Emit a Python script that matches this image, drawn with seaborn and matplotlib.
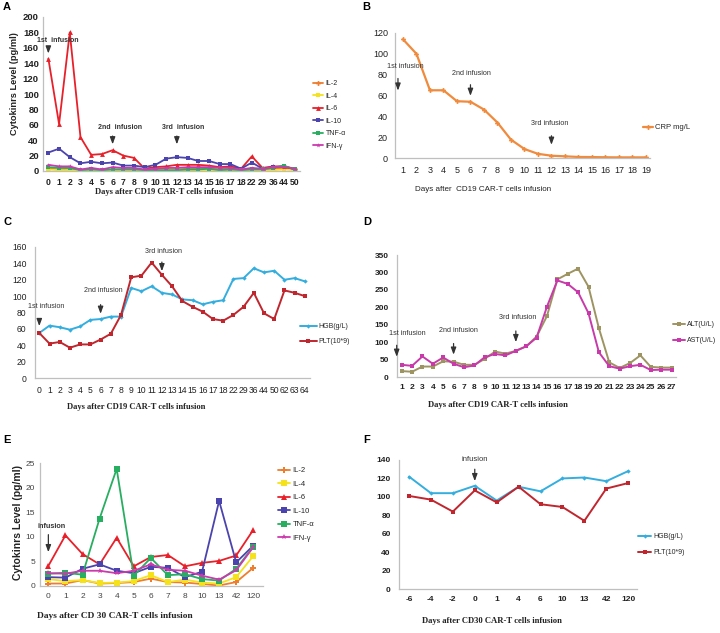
import numpy as np
import pandas as pd
import matplotlib
matplotlib.use('Agg')
import matplotlib.pyplot as plt
import seaborn as sns

# ---- panel A: cytokines after CD19 CAR-T
a_days = ['0', '1', '2', '3', '4', '5', '6', '7', '8', '9', '10', '11', '12', '13', '14', '15', '16', '17', '18',
          '22', '29', '36', '44', '50']
a_il2 = [3, 2, 3, 1, 2, 1, 2, 2, 2, 1, 2, 2, 2, 3, 3, 3, 2, 2, 1, 3, 2, 3, 4, 2]
a_il4 = [2, 1, 1, 0.5, 1, 0.5, 1, 1, 1, 0.5, 1, 1, 1, 1, 1, 1, 1, 1, 0.5, 1, 1, 1, 2, 1]
a_il6 = [146, 61, 180, 44, 21, 22, 27, 20, 17, 3, 5, 6, 8, 8, 8, 7, 5, 6, 3, 19, 4, 6, 6, 3]
a_il10 = [24, 29, 18, 10, 12, 10, 11, 7, 7, 5, 8, 16, 18, 17, 13, 13, 9, 9, 3, 11, 3, 5, 6, 2]
a_tnf = [5, 4, 4, 1, 2, 1, 2, 2, 2, 1, 1, 1, 1, 2, 2, 3, 1, 2, 1, 2, 2, 4, 7, 2]
a_ifn = [8, 6, 6, 2, 4, 2, 5, 4, 4, 2, 3, 4, 4, 5, 5, 5, 4, 4, 2, 4, 3, 5, 5, 3]

# ---- panel B: CRP
b_days = [str(d) for d in range(1, 20)]
b_crp = [114, 100, 65, 65, 54.5, 54, 46.5, 34, 17.6, 8.6, 4, 2.2, 1.6, 1, 0.9, 0.7, 0.6, 0.6, 0.6]

# ---- panel C: HGB / PLT after CD19 CAR-T
c_days = ['0', '1', '2', '3', '4', '5', '6', '7', '8', '9', '10', '11', '12', '13', '14', '15', '16', '17', '18',
          '22', '29', '36', '44', '50', '62', '63', '64']
c_hgb = [55, 64, 62, 59, 63, 71, 72, 75, 75, 110, 106, 112, 104, 102, 96, 95, 90, 93, 95, 121, 122, 134, 129, 131,
         120, 122, 118]
c_plt = [55, 42, 44, 37, 41, 41, 47, 54, 77, 123, 125, 141, 126, 112, 94, 87, 81, 72, 70, 77, 87, 104, 79, 72,
         107, 104, 100]

# ---- panel D: ALT / AST
d_days = [str(d) for d in range(1, 28)]
d_alt = [17, 15, 30, 30, 45, 44, 35, 35, 52, 73, 67, 75, 88, 116, 175, 280, 296, 311, 259, 140, 42, 26, 40, 62,
         29, 27, 27]
d_ast = [35, 32, 59, 38, 56, 38, 28, 33, 57, 66, 62, 75, 88, 113, 202, 277, 267, 243, 183, 71, 31, 24, 31, 35,
         20, 21, 21]

# ---- panel E: cytokines after CD30 CAR-T
e_days = ['0', '1', '2', '3', '4', '5', '6', '7', '8', '10', '13', '42', '120']
e_il2 = [0.5, 0.5, 1.2, 0.5, 0.6, 0.8, 1.5, 0.8, 0.7, 0.4, 0.1, 0.8, 3.7]
e_il4 = [1.4, 1.0, 1.2, 0.6, 0.7, 1.0, 2.2, 0.8, 1.3, 0.7, 0.5, 1.8, 6.1]
e_il6 = [4.1, 10.3, 6.5, 4.4, 9.8, 4.0, 5.9, 6.3, 4.0, 4.7, 5.1, 6.2, 11.4]
e_il10 = [1.8, 1.7, 3.5, 4.4, 3.1, 2.6, 3.9, 3.7, 1.8, 2.9, 17.3, 4.8, 8.2]
e_tnf = [2.5, 2.7, 2.3, 13.7, 23.8, 2.1, 5.7, 2.2, 2.4, 1.4, 1.1, 3.5, 8.0]
e_ifn = [2.6, 2.5, 3.1, 3.1, 2.6, 3.1, 4.4, 3.3, 3.1, 2.1, 1.3, 3.2, 7.9]

# ---- panel F: HGB / PLT after CD30 CAR-T
f_days = ['-6', '-4', '-2', '0', '1', '4', '6', '10', '13', '42', '120']
f_hgb = [122, 104, 104, 112, 96, 111, 106, 120, 121, 117, 128]
f_plt = [101, 97, 84, 107, 94, 111, 92, 89, 74, 109, 115]

cyto_names = ['IL-2', 'IL-4', 'IL-6', 'IL-10', 'TNF-α', 'IFN-γ']
cyto_colors = ['#EE7D2E', '#F5E21A', '#E8202A', '#4B44AE', '#27AE60', '#CC3AAE']
cyto_markers = ['P', 's', '^', 's', 's', '*']

sns.set_theme(style='white')
plt.rcParams['font.family'] = ['Liberation Sans', 'DejaVu Sans']

W, H = 720, 633
fig = plt.figure(figsize=(W / 100, H / 100), dpi=100)


def make_ax(l, t, r, b):
    ax = fig.add_axes([l / W, 1 - b / H, (r - l) / W, (b - t) / H])
    for s in ['top', 'right']:
        ax.spines[s].set_visible(False)
    for s in ['left', 'bottom']:
        ax.spines[s].set_color('#BFBFBF')
        ax.spines[s].set_linewidth(0.9)
    return ax


def draw(ax, labels, series, names, colors, markers, ms=3.5, lw=1.3):
    x = np.arange(len(labels))
    for vals, name, col, mk in zip(series, names, colors, markers):
        df = pd.DataFrame({'x': x, 'y': vals})
        sns.lineplot(data=df, x='x', y='y', ax=ax, color=col, marker=mk, markersize=ms,
                     markeredgewidth=0, linewidth=lw, label=name)
    ax.set_xticks(x)
    ax.set_xticklabels(labels)
    ax.set_xlabel('')
    ax.set_ylabel('')


def style_ticks(ax, xsize, ysize, weight, xpad, ypad, color='#222222'):
    ax.tick_params(axis='both', length=0, colors=color)
    ax.tick_params(axis='x', pad=xpad, labelsize=xsize)
    ax.tick_params(axis='y', pad=ypad, labelsize=ysize)
    for lab in ax.get_xticklabels() + ax.get_yticklabels():
        lab.set_fontweight(weight)


def legend(ax, x_px, y_px, size, spacing, hl=1.8):
    ax.legend(loc='upper left', bbox_to_anchor=(x_px / W, 1 - y_px / H), bbox_transform=fig.transFigure,
              frameon=False, fontsize=size, borderpad=0, borderaxespad=0, handlelength=hl,
              handletextpad=0.3, labelspacing=spacing)


def arrow(ax, x, y0, y1, text=None, tx=None, ty=None, size=5, weight='bold'):
    ax.annotate('', xy=(x, y1), xytext=(x, y0), annotation_clip=False,
                arrowprops=dict(arrowstyle='-|>,head_length=0.35,head_width=0.13', color='#333333', lw=0.9))
    if text:
        ax.text(tx, ty, text, ha='center', va='center', fontsize=size, fontweight=weight,
                color='#333333', clip_on=False)


def xlabel(text, cx, top, size, family='Liberation Serif', weight='bold'):
    fig.text(cx / W, 1 - top / H, text, ha='center', va='top', fontsize=size, fontweight=weight,
             family=family, color='#222222')


# A
ax = make_ax(43, 17, 300, 171)
draw(ax, a_days, [a_il2, a_il4, a_il6, a_il10, a_tnf, a_ifn], cyto_names, cyto_colors, cyto_markers, ms=3.5)
ax.set_xlim(-0.5, 23.5)
ax.set_ylim(0, 200)
ax.set_yticks(range(0, 201, 20))
style_ticks(ax, 6.2, 6.8, 'bold', 5, 3)
legend(ax, 313, 80, 5, 0.8, hl=1.5)
arrow(ax, 0, 162, 149, '1st  infusion', 0.9, 170)
arrow(ax, 6, 49, 31, '2nd  infusion', 6.7, 56)
arrow(ax, 12, 49, 31, '3rd  infusion', 12.6, 56)
fig.text(15 / W, 1 - 84 / H, 'Cytokinrs Level (pg/ml)', rotation=90, ha='center', va='center',
         fontsize=6.7, fontweight='bold', color='#222222')
xlabel('Days after CD19 CAR-T cells infusion', 164, 188, 6.1)

# B
ax = make_ax(395, 33, 650, 158)
draw(ax, b_days, [b_crp], ['CRP mg/L'], ['#F08A3C'], ['P'], ms=3.5, lw=1.6)
ax.set_xlim(-0.59, 18.3)
ax.set_ylim(0, 120)
ax.set_yticks(range(0, 121, 20))
style_ticks(ax, 6.5, 6.5, 'normal', 5.5, 5)
legend(ax, 643, 124, 5.5, 0.5, hl=1.3)
arrow(ax, -0.37, 79, 62, '1st infusion', 0.15, 87.5, 5.2, 'normal')
arrow(ax, 5, 73, 57, '2nd infusion', 5.1, 81, 5.2, 'normal')
arrow(ax, 11, 24, 10, '3rd infusion', 10.9, 33, 5.2, 'normal')
xlabel('Days after  CD19 CAR-T cells infusion', 483, 186, 5.8, family='Liberation Sans', weight='normal')

# C
ax = make_ax(35, 247, 310, 378)
draw(ax, c_days, [c_hgb, c_plt], ['HGB(g/L)', 'PLT(10*9)'], ['#33AEDF', '#C0262E'], ['D', 's'], ms=2.2, lw=1.4)
ax.set_xlim(-0.42, 26.5)
ax.set_ylim(0, 160)
ax.set_yticks(range(0, 161, 20))
style_ticks(ax, 6.2, 6.2, 'normal', 6, 6)
legend(ax, 300, 323, 5, 1.15, hl=2.4)
arrow(ax, 0, 76, 60, '1st infusion', 0.7, 87, 5.1, 'normal')
arrow(ax, 6, 93, 75, '2nd infusion', 6.26, 107, 5.1, 'normal')
arrow(ax, 12, 145, 127, '3rd infusion', 12.2, 155, 5.1, 'normal')
xlabel('Days after CD19 CAR-T cells infusion', 136, 403, 6.1)

# D
ax = make_ax(397, 255, 676, 377)
draw(ax, d_days, [d_alt, d_ast], ['ALT(U/L)', 'AST(U/L)'], ['#9E9462', '#C83AAA'], ['s', 's'], ms=2.2, lw=1.4)
ax.set_xlim(-0.45, 26.43)
ax.set_ylim(0, 350)
ax.set_yticks(range(0, 351, 50))
style_ticks(ax, 6, 6, 'bold', 5, 6)
legend(ax, 673, 321, 5, 1.3, hl=1.7)
arrow(ax, -0.48, 99, 50, '1st infusion', 0.5, 126, 5.2, 'normal')
arrow(ax, 5, 104, 56, '2nd infusion', 5.46, 132, 5.2, 'normal')
arrow(ax, 11, 140, 92, '3rd infusion', 11.2, 172, 5.2, 'normal')
xlabel('Days after CD19 CAR-T cells infusion', 498, 401, 6.2)

# E
ax = make_ax(40, 463, 263, 586)
draw(ax, e_days, [e_il2, e_il4, e_il6, e_il10, e_tnf, e_ifn], cyto_names, cyto_colors, cyto_markers, ms=4)
ax.set_xlim(-0.49, 12.57)
ax.set_ylim(0, 25)
ax.set_yticks(range(0, 26, 5))
style_ticks(ax, 6, 6, 'normal', 5, 3.5, color='#444444')
legend(ax, 278, 467, 5.5, 0.8, hl=1.6)
arrow(ax, 0, 11, 6.3, 'infusion', 0.2, 12, 5.2, 'bold')
fig.text(18 / W, 1 - 522 / H, 'Cytokinrs Level (pg/ml)', rotation=90, ha='center', va='center',
         fontsize=7.5, fontweight='bold', color='#222222')
xlabel('Days after CD 30 CAR-T cells infusion', 115, 612, 6.75)

# F
ax = make_ax(399, 460, 637, 589)
draw(ax, f_days, [f_hgb, f_plt], ['HGB(g/L)', 'PLT(10*9)'], ['#33AEDF', '#C0262E'], ['D', 's'], ms=2.2, lw=1.4)
ax.set_xlim(-0.456, 10.4)
ax.set_ylim(0, 140)
ax.set_yticks(range(0, 141, 20))
style_ticks(ax, 6, 6, 'bold', 5, 6)
legend(ax, 638, 533, 5, 1.3, hl=1.9)
arrow(ax, 3, 133, 114, 'infusion', 3, 141, 5.5, 'normal')
xlabel('Days after CD30 CAR-T cells infusion', 492, 617, 6.2)

for letter, (px, py) in zip('ABCDEF', [(3, 7), (362, 7), (3, 222), (363, 222), (3, 440), (363, 440)]):
    fig.text(px / W, 1 - py / H, letter, ha='left', va='center', fontsize=8, fontweight='bold', color='black')

fig.savefig('out.png', dpi=100)
